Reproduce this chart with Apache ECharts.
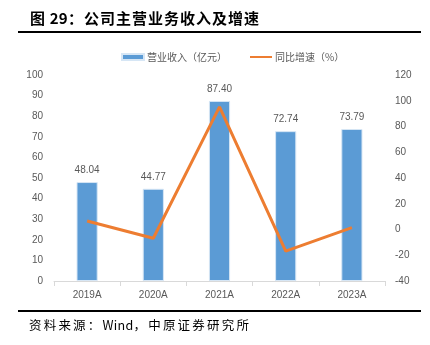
<!DOCTYPE html>
<html>
<head>
<meta charset="utf-8">
<script src="https://cdn.jsdelivr.net/npm/echarts@6/dist/echarts.min.js"></script>
<style>
  html, body { margin: 0; padding: 0; background: #fff; }
  #chart { width: 430px; height: 345px; }
</style>
</head>
<body>
<div id="chart"></div>
<script>
// Revenue (100 million yuan) and year-on-year growth (%)
const years = ['2019A', '2020A', '2021A', '2022A', '2023A'];
const revenue = [48.04, 44.77, 87.40, 72.74, 73.79];
const growth = [6.6, -6.8, 95.2, -16.8, 1.4];

const titleText = '图 29：公司主营业务收入及增速';
const sourceText = '资料来源：Wind，中原证券研究所';

// Lay out a string character by character; CJK glyphs get extra tracking, Latin ones stay tight
const measureCtx = document.createElement('canvas').getContext('2d');
function spacedText(text, x, y, font, spacing, fill) {
  measureCtx.font = font;
  const parts = [];
  let cx = x;
  for (const ch of text) {
    parts.push({ type: 'text', x: cx, y: y, silent: true,
      style: { text: ch, font: font, fill: fill, verticalAlign: 'middle' } });
    const wide = ch.charCodeAt(0) > 0x2e80;
    cx += measureCtx.measureText(ch).width + (wide ? spacing : 0.3);
  }
  return parts;
}

const chart = echarts.init(document.getElementById('chart'));
const axisLabel = { color: '#595959', fontSize: 10, fontFamily: 'Liberation Sans, Arial, sans-serif' };

chart.setOption({
  animation: false,
  textStyle: { fontFamily: 'Liberation Sans, "Noto Sans CJK SC", sans-serif' },
  legend: {
    top: 47,
    left: 116,
    itemGap: 22,
    itemWidth: 22,
    itemHeight: 6,
    textStyle: { color: '#595959', fontSize: 10, fontFamily: '"Noto Sans CJK SC", sans-serif', padding: [0, 0, 0, -2] },
    data: [
      { name: '营业收入（亿元）', icon: 'rect' },
      { name: '同比增速（%）', itemStyle: { opacity: 0 } }
    ]
  },
  grid: { left: 54, right: 45, top: 75, bottom: 64 },
  xAxis: {
    type: 'category',
    data: years,
    axisLine: { lineStyle: { color: '#D9D9D9' } },
    axisTick: { show: true, lineStyle: { color: '#D9D9D9' } },
    axisLabel: { ...axisLabel, margin: 9 }
  },
  yAxis: [
    {
      type: 'value', min: 0, max: 100, interval: 10,
      splitLine: { show: false },
      axisLine: { show: false }, axisTick: { show: false },
      axisLabel: { ...axisLabel, margin: 11 }
    },
    {
      type: 'value', min: -40, max: 120, interval: 20,
      splitLine: { show: false },
      axisLine: { show: false }, axisTick: { show: false },
      axisLabel: { ...axisLabel, align: 'left', margin: 10 }
    }
  ],
  series: [
    {
      name: '营业收入（亿元）',
      type: 'bar',
      data: revenue,
      barWidth: '32%',
      itemStyle: { color: '#5B9BD5', borderColor: '#D6E6F5', borderWidth: 1 },
      label: {
        show: true, position: 'top', distance: 7,
        color: '#595959', fontSize: 10,
        formatter: p => p.value.toFixed(2)
      }
    },
    {
      name: '同比增速（%）',
      type: 'line',
      yAxisIndex: 1,
      data: growth,
      symbol: 'none',
      lineStyle: { color: '#ED7D31', width: 3 },
      itemStyle: { color: '#ED7D31' }
    }
  ],
  graphic: [
    { type: 'group', children: spacedText(titleText, 30, 18, 'bold 15px "Noto Sans CJK SC", sans-serif', 1.0, '#000') },
    { type: 'rect', shape: { x: 18, y: 31, width: 403, height: 2 }, style: { fill: '#000' } },
    { type: 'rect', shape: { x: 18, y: 310, width: 403, height: 2 }, style: { fill: '#000' } },
    { type: 'group', children: spacedText(sourceText, 29, 325, '12.5px "Noto Sans CJK SC", sans-serif', 2.2, '#000') }
  ]
});
</script>
</body>
</html>
